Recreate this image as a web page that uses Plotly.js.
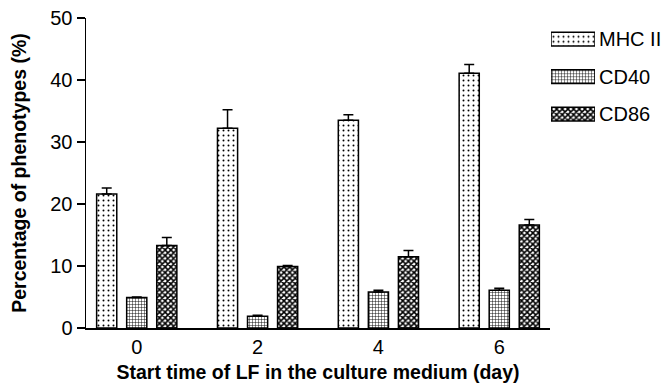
<!DOCTYPE html>
<html>
<head>
<meta charset="utf-8">
<script src="https://cdn.plot.ly/plotly-3.0.1.min.js"></script>
<style>html,body{margin:0;padding:0;background:#fff;}#chart{width:671px;height:383px;}</style>
</head>
<body>
<div id="chart"></div>
<script>
// Data
const days = ['0', '2', '4', '6'];
const seriesNames = ['MHC II', 'CD40', 'CD86'];
const mhcII = [21.6, 32.2, 33.5, 41.1];
const mhcIIErr = [1.0, 3.0, 0.9, 1.4];
const cd40 = [4.9, 1.9, 5.8, 6.1];
const cd40Err = [0.1, 0.15, 0.3, 0.3];
const cd86 = [13.3, 9.9, 11.5, 16.6];
const cd86Err = [1.3, 0.2, 1.0, 0.9];
const yTicks = [0, 10, 20, 30, 40, 50];

const FONT = 'Liberation Sans, Arial, Helvetica, sans-serif';
const patterns = [
  {shape: '.', size: 5, solidity: 0.12},
  {shape: '+', size: 3, solidity: 0.28},
  {shape: 'x', size: 4, solidity: 0.62}
];

function barTrace(name, vals, errs, p) {
  return {
    type: 'bar', name: name, x: days, y: vals,
    xaxis: 'x', yaxis: 'y', showlegend: false,
    marker: {
      color: '#ffffff',
      line: {color: '#000', width: 1.5},
      pattern: {shape: p.shape, size: p.size, solidity: p.solidity, fgcolor: '#000', bgcolor: '#fff', fillmode: 'replace'}
    },
    error_y: {type: 'data', symmetric: false, array: errs, arrayminus: errs.map(() => 0),
              color: '#000', thickness: 1.5, width: 5},
    hoverinfo: 'skip'
  };
}

const traces = [
  barTrace(seriesNames[0], mhcII, mhcIIErr, patterns[0]),
  barTrace(seriesNames[1], cd40, cd40Err, patterns[1]),
  barTrace(seriesNames[2], cd86, cd86Err, patterns[2]),
  // legend swatches drawn as a small horizontal bar subplot
  {
    type: 'bar', orientation: 'h', x: seriesNames.map(() => 1), y: seriesNames,
    xaxis: 'x2', yaxis: 'y2', width: 0.37, showlegend: false, hoverinfo: 'skip',
    marker: {
      color: '#fff', line: {color: '#000', width: 1.5},
      pattern: {shape: patterns.map(p => p.shape), size: patterns.map(p => p.size),
                solidity: patterns.map(p => p.solidity), fgcolor: '#000', bgcolor: '#fff', fillmode: 'replace'}
    }
  }
];

const layout = {
  width: 671, height: 383,
  margin: {l: 86, r: 4, t: 18, b: 55},
  paper_bgcolor: '#fff', plot_bgcolor: '#fff',
  font: {family: FONT, color: '#000', size: 20},
  barmode: 'group', bargap: 0.254, bargroupgap: 0.33,
  showlegend: false,
  xaxis: {
    domain: [0, 464 / 581], type: 'category', range: [-0.42, 3.42],
    showline: true, linecolor: '#000', linewidth: 1.5, ticks: '', showgrid: false, zeroline: false,
    tickfont: {size: 20, family: FONT},
    title: {text: 'Start time of LF in the culture medium (day)', font: {size: 19.5, family: FONT, weight: 700}, standoff: 9},
    fixedrange: true
  },
  yaxis: {
    range: [0, 50], tickvals: yTicks, ticktext: yTicks.map(String),
    showline: true, linecolor: '#000', linewidth: 1.5, ticks: 'outside', ticklen: 8, tickwidth: 1.5, tickcolor: '#000',
    showgrid: false, zeroline: false,
    tickfont: {size: 20, family: FONT},
    title: {text: 'Percentage of phenotypes (%)', font: {size: 19.5, family: FONT, weight: 700}, standoff: 18},
    fixedrange: true
  },
  xaxis2: {domain: [465 / 581, 509 / 581], anchor: 'y2', range: [0, 1], visible: false, fixedrange: true},
  yaxis2: {
    domain: [0.62, 0.98], anchor: 'x2', side: 'right', type: 'category',
    categoryorder: 'array', categoryarray: seriesNames, range: [2.578, -0.397],
    showline: false, ticks: '', showgrid: false, zeroline: false,
    tickfont: {size: 20, family: FONT}, ticklabelstandoff: 3, fixedrange: true
  }
};

Plotly.newPlot('chart', traces, layout, {staticPlot: true, displayModeBar: false});
</script>
</body>
</html>
